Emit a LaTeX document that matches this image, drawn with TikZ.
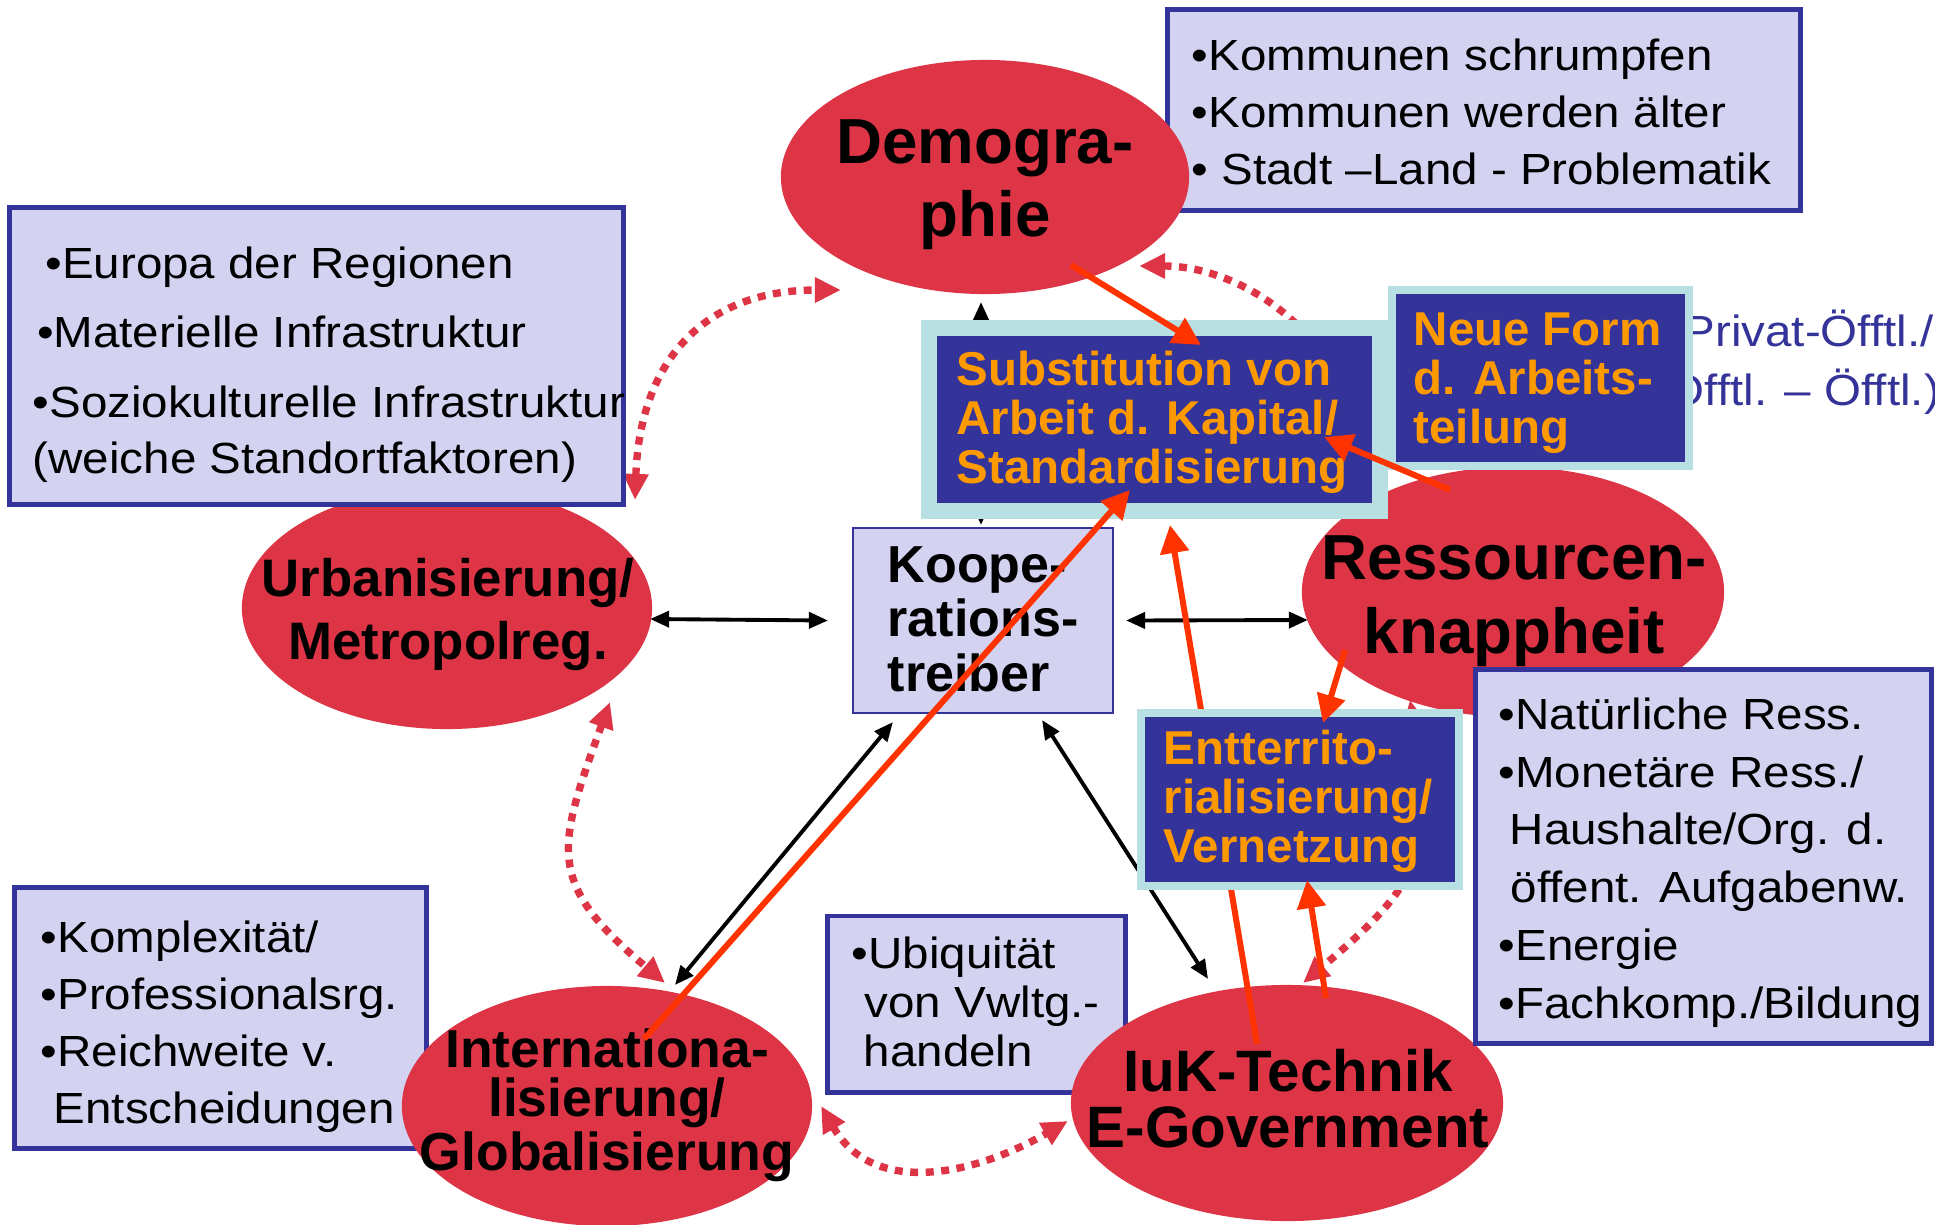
\documentclass[tikz,border=0pt]{standalone}
\usepackage{fontspec}
\setmainfont{Liberation Sans}
\newfontfamily\boxfont[FakeStretch=1.09]{Liberation Sans}
\usetikzlibrary{arrows.meta,shapes.geometric}
\definecolor{drivered}{RGB}{221,53,69}
\definecolor{boxlav}{RGB}{211,210,240}
\definecolor{boxnavy}{RGB}{51,51,153}
\definecolor{corenavy}{RGB}{51,51,153}
\definecolor{corecyan}{RGB}{184,224,227}
\definecolor{coreorange}{RGB}{255,153,0}
\definecolor{pushred}{RGB}{255,51,0}

\begin{document}
\begin{tikzpicture}
    [x=0.01cm, y=0.01cm,
     driver/.style={ellipse, fill=drivered, inner sep=0pt, outer sep=0pt},
     drivertext/.style={align=center, anchor=base, inner sep=0pt},
     infobox/.style={rectangle, draw=boxnavy, fill=boxlav, line width=1.4pt, inner sep=0pt, outer sep=0pt},
     infotext/.style={align=left, anchor=base west, inner sep=0pt, font=\boxfont\fontsize{12.4}{16.2}\selectfont},
     corebox/.style={rectangle, draw=corecyan, fill=corenavy, inner sep=0pt, outer sep=0pt},
     coretext/.style={align=left, anchor=base west, inner sep=0pt, text=coreorange, font=\bfseries\fontsize{13.5}{13.9}\selectfont},
     link/.style={line width=1.1pt, {Triangle[length=0.19cm,width=0.16cm]}-{Triangle[length=0.19cm,width=0.16cm]}},
     push/.style={draw=pushred, line width=1.7pt, -{Triangle[length=0.28cm,width=0.28cm]}},
     ring/.style={draw=drivered, line width=2.1pt, dash pattern=on 0.08cm off 0.075cm, {Triangle[length=0.26cm,width=0.24cm]}-{Triangle[length=0.26cm,width=0.24cm]}}]
    \useasboundingbox (0,0) rectangle (1952,-1224);
    \clip (0,0) rectangle (1934,-1224);

    \node[infobox, minimum width=6.32cm, minimum height=2.00cm] (kommbox) at (1484,-110) {};
    \node[infotext] (kommtext) at (1191,-184) {•Kommunen schrumpfen\\•Kommunen werden älter\\• Stadt –Land - Problematik};
    \node[infobox, minimum width=4.11cm, minimum height=2.60cm] (komplexbox) at (220.5,-1018) {};
    \node[infotext] (komplextext) at (40,-1123) {•Komplexität/\\•Professionalsrg.\\•Reichweite v.\\\hspace*{0.13cm}Entscheidungen};
    \node[infobox, minimum width=2.97cm, minimum height=1.76cm] (ubiqbox) at (976.5,-1004) {};
    \node[infotext, font=\boxfont\fontsize{12.4}{13.8}\selectfont] (ubiqtext) at (851,-1066) {•Ubiquität\\\hspace*{0.13cm}von Vwltg.-\\\hspace*{0.12cm}handeln};

    \node[driver, minimum width=4.08cm, minimum height=2.34cm] (demo) at (985,-177) {};
    \node[driver, minimum width=4.10cm, minimum height=2.42cm] (urb) at (447,-608) {};
    \node[driver, minimum width=4.22cm, minimum height=2.50cm] (ress) at (1513,-592) {};
    \node[driver, minimum width=4.10cm, minimum height=2.40cm] (inter) at (607,-1106) {};
    \node[driver, minimum width=4.32cm, minimum height=2.36cm] (iuk) at (1287,-1103) {};
    \node[drivertext, font=\bfseries\fontsize{18.1}{20.5}\selectfont] (demotext) at (985,-236) {Demogra-\\phie};
    \node[drivertext, font=\bfseries\fontsize{15}{17.9}\selectfont] (urbtext) at (448,-659) {Urbanisierung/\\Metropolreg.};
    \node[drivertext, font=\bfseries\fontsize{18.1}{21}\selectfont] (resstext) at (1514,-653) {Ressourcen-\\knappheit};
    \node[drivertext, font=\bfseries\fontsize{15.2}{13.9}\selectfont] (intertext) at (607,-1170) {Internationa-\\lisierung/\\Globalisierung};
    \node[drivertext, font=\bfseries\fontsize{16.6}{15.9}\selectfont] (iuktext) at (1288,-1147) {IuK-Technik\\E-Government};

    \node[infobox, line width=0.6pt, minimum width=2.60cm, minimum height=1.85cm] (koop) at (983,-620.5) {};
    \node[anchor=base west, align=left, inner sep=0pt, font=\bfseries\fontsize{14.8}{15.4}\selectfont] (kooptext) at (887,-691) {Koope-\\rations-\\treiber};

    \draw[ring] ([shift={(188,-13)}]urb.north) to[out=88, in=180, looseness=1.2] ([shift={(60,-113)}]demo.west);
    \draw[ring] ([shift={(-50,-89)}]demo.east) to[out=0, in=90] ([shift={(-168,142)}]ress.center);
    \draw[ring] ([shift={(163,27)}]urb.south) to[out=-110, in=140, looseness=1.4] ([shift={(58,3)}]inter.north);
    \draw[ring] ([shift={(9,0)}]inter.east) to[out=-60, in=-150, looseness=1.1] ([shift={(-3,-18)}]iuk.west);
    \draw[ring] ([shift={(-103,-108)}]ress.center) to[out=-80, in=40, looseness=1.3] ([shift={(16,2)}]iuk.north);

    \draw[link] ([shift={(-2,-11)}]urb.east) -- ([shift={(-25,0)}]koop.west);
    \draw[link] ([shift={(13,0)}]koop.east) -- ([shift={(6,-28)}]ress.west);
    \draw[link] ([shift={(40,-9)}]koop.south west) -- ([shift={(68,1)}]inter.north);
    \draw[link] ([shift={(-71,-7)}]koop.south east) -- ([shift={(-79,6)}]iuk.north);
    \draw[link] ([shift={(-4,-8)}]demo.south) -- ([shift={(-2,3)}]koop.north);

    \node[infobox, minimum width=6.13cm, minimum height=2.96cm] (europabox) at (316.5,-356) {};
    \node[infotext, font=\boxfont\fontsize{12.4}{15.9}\selectfont] (europatext) at (32,-473) {\hspace*{0.127cm}•Europa der Regionen\\[0.135cm]\hspace*{0.044cm}•Materielle Infrastruktur\\[0.135cm]•Soziokulturelle Infrastruktur\\(weiche Standortfaktoren)};
    \node[infobox, minimum width=4.55cm, minimum height=3.73cm] (naturbox) at (1703.5,-856.5) {};
    \node[infotext, font=\boxfont\fontsize{12.4}{16.4}\selectfont] (naturtext) at (1498,-1018) {•Natürliche Ress.\\•Monetäre Ress./\\\hspace*{0.11cm}Haushalte/Org. d.\\\hspace*{0.12cm}öffent. Aufgabenw.\\•Energie\\•Fachkomp./Bildung};

    \node[corebox, line width=0.16cm, minimum width=4.50cm, minimum height=1.83cm] (subst) at (1154.5,-419.5) {};
    \node[coretext] (substtext) at (956,-483) {Substitution von\\Arbeit d. Kapital/\\Standardisierung};
    \draw[push] ([shift={(-30,59)}]iuk.center) -- ([shift={(15.5,-14)}]subst.south);
    \node[infotext, text=boxnavy, font=\boxfont\fontsize{12.4}{16.5}\selectfont] (pptext) at (1667,-405) {(Privat-Öfftl./\\Öfftl. – Öfftl.)};
    \node[corebox, line width=0.08cm, minimum width=2.97cm, minimum height=1.75cm] (neue) at (1540.5,-378) {};
    \node[coretext] (neuetext) at (1413,-443) {Neue Form\\d. Arbeits-\\teilung};
    \node[corebox, line width=0.08cm, minimum width=3.18cm, minimum height=1.73cm] (entt) at (1300,-799.5) {};
    \node[coretext] (entttext) at (1163,-862) {Entterrito-\\rialisierung/\\Vernetzung};

    \draw[push] ([shift={(86,-88)}]demo.center) -- ([shift={(46.5,-17)}]subst.north);
    \draw[push] ([shift={(-63,102)}]ress.center) -- ([shift={(-55.5,-17.5)}]subst.east);
    \draw[push] ([shift={(37,67)}]inter.center) -- ([shift={(-24.5,21)}]subst.south);
    \draw[push] ([shift={(-168,-58)}]ress.center) -- ([shift={(23,-10)}]entt.north);
    \draw[push] ([shift={(39,105)}]iuk.center) -- ([shift={(7,6)}]entt.south);
\end{tikzpicture}
\end{document}
